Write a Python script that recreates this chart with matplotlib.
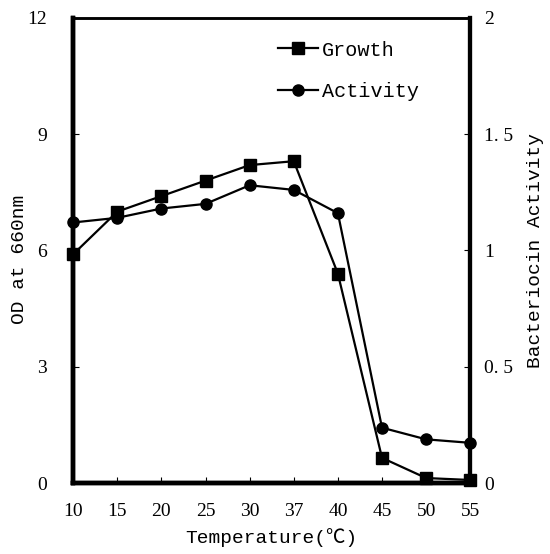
import matplotlib
matplotlib.use("Agg")
import matplotlib.pyplot as plt

temps = ["10", "15", "20", "25", "30", "37", "40", "45", "50", "55"]
growth = [5.9, 7.0, 7.4, 7.8, 8.2, 8.3, 5.4, 0.65, 0.13, 0.08]
activity = [1.12, 1.14, 1.18, 1.20, 1.28, 1.26, 1.16, 0.238, 0.188, 0.173]
left_ticks = [0, 3, 6, 9, 12]
right_ticks = [0, 0.5, 1, 1.5, 2]
right_labels = ["0", "0. 5", "1", "1. 5", "2"]

serif = ["Liberation Serif", "Noto Sans CJK JP", "DejaVu Serif"]
mono = ["Liberation Mono", "Noto Sans CJK JP", "DejaVu Sans Mono"]
plt.rcParams['font.family'] = serif

fig = plt.figure(figsize=(5.5, 5.54), dpi=100)
ax = fig.add_axes([0.133, 0.128, 0.722, 0.840])
ax2 = ax.twinx()

x = list(range(len(temps)))
l1, = ax.plot(x, growth, color="black", lw=1.6, marker="s", ms=8.5, label="Growth", clip_on=False, zorder=5)
l2, = ax2.plot(x, activity, color="black", lw=1.6, marker="o", ms=8, label="Activity", clip_on=False, zorder=5)

ax.set_xlim(0, len(temps) - 1)
ax.set_ylim(0, 12)
ax2.set_ylim(0, 2)
ax.set_xticks(x)
ax.set_xticklabels(temps, fontsize=14)
ax.set_yticks(left_ticks)
ax.set_yticklabels([str(t) for t in left_ticks], fontsize=14)
ax2.set_yticks(right_ticks)
ax2.set_yticklabels(right_labels, fontsize=14)

ax.tick_params(axis="x", direction="in", length=4, width=0.8, pad=14)
ax.tick_params(axis="y", direction="in", length=4, width=0.8, pad=19)
ax2.tick_params(axis="y", direction="in", length=4, width=0.8, pad=10)

for a in (ax, ax2):
    a.spines["left"].set_linewidth(3.2)
    a.spines["bottom"].set_linewidth(3.2)
    a.spines["right"].set_linewidth(3.0)
    a.spines["top"].set_linewidth(1.8)

ax.set_ylabel("OD at 660nm", fontsize=14, family=mono)
ax.yaxis.set_label_coords(-0.113, 0.48)
ax2.set_ylabel("Bacteriocin Activity", fontsize=14, family=mono)
ax2.yaxis.set_label_coords(1.144, 0.5)
ax.set_xlabel("Temperature(℃)", fontsize=14, family=mono, labelpad=6)

leg = ax.legend(handles=[l1, l2], loc="upper left", bbox_to_anchor=(0.47, 0.99),
                frameon=False, prop={"family": mono, "size": 14.5},
                handlelength=2.0, handletextpad=0.2, labelspacing=1.1)

fig.savefig("out.png", dpi=100)
